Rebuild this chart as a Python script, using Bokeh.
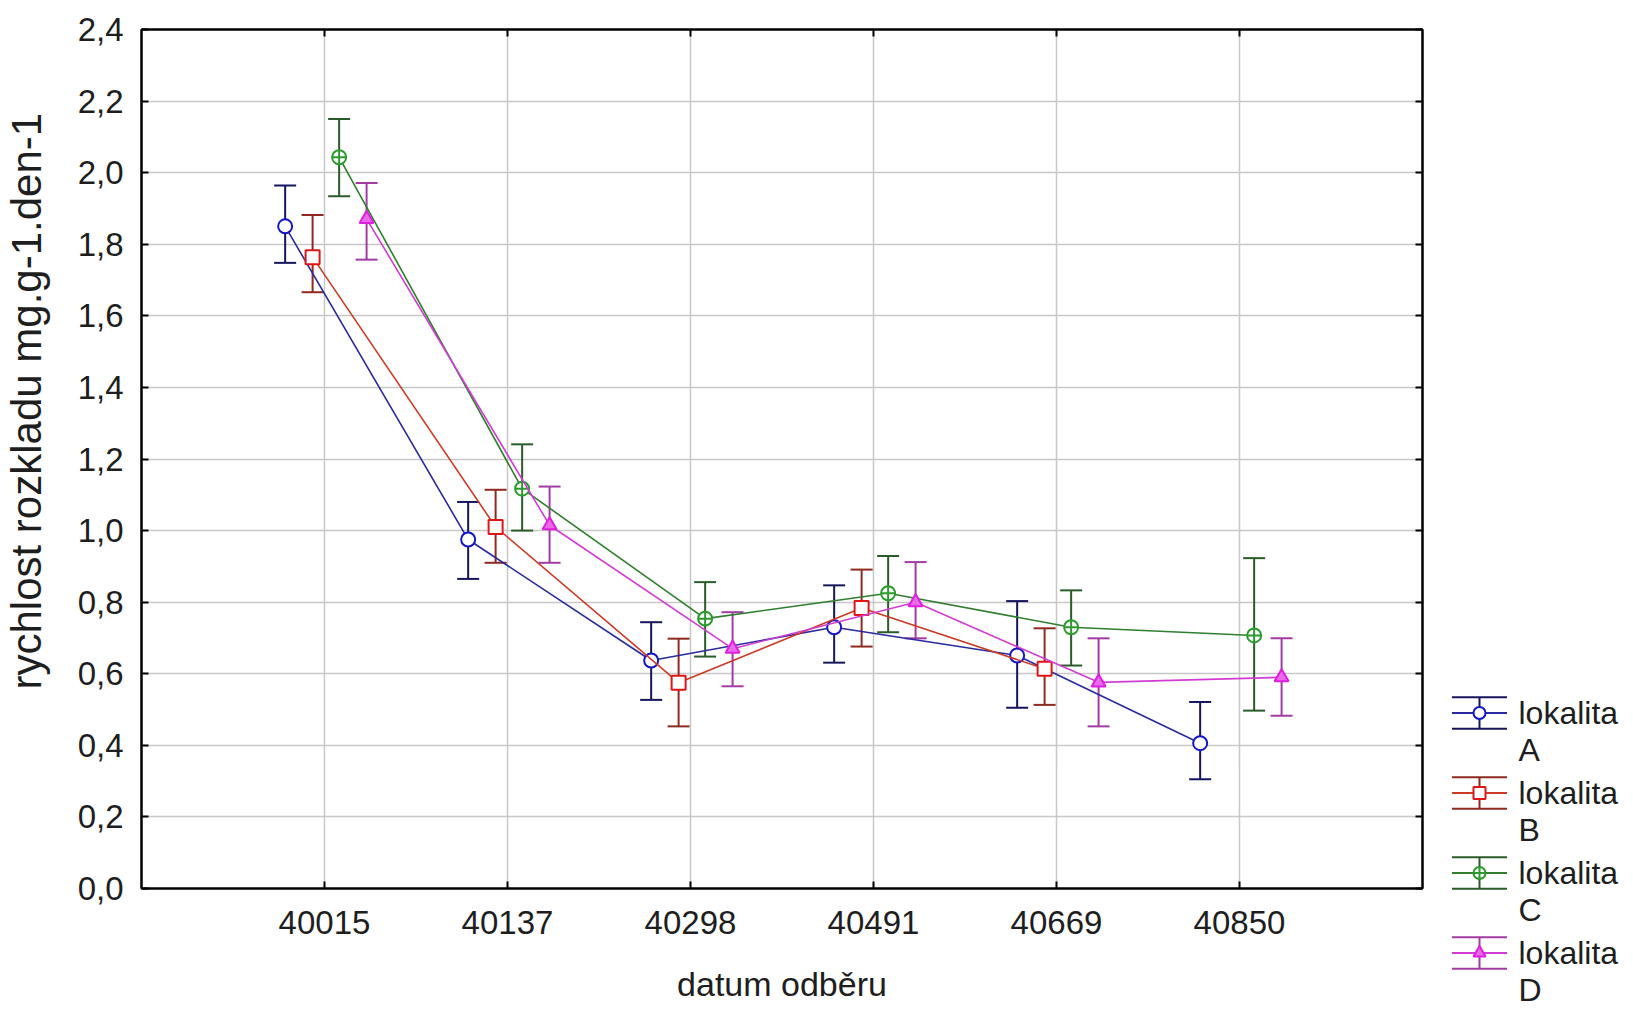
from bokeh.plotting import figure
from bokeh.models import (ColumnDataSource, Range1d, FixedTicker, LinearAxis, Whisker,
                          TeeHead, CustomJSTickFormatter, Title)
from bokeh.layouts import row, column
from bokeh.embed import file_html
from bokeh.resources import INLINE
from bokeh.core.properties import value

# ---------------- data ----------------
categories = ["40015", "40137", "40298", "40491", "40669", "40850"]
x_label = "datum odběru"
y_label = "rychlost rozkladu mg.g-1.den-1"
y_ticks = [0.0, 0.2, 0.4, 0.6, 0.8, 1.0, 1.2, 1.4, 1.6, 1.8, 2.0, 2.2, 2.4]

series_labels = ["lokalita A", "lokalita B", "lokalita C", "lokalita D"]

a_mean = [1.850, 0.975, 0.637, 0.730, 0.651, 0.406]
a_low = [1.748, 0.865, 0.527, 0.631, 0.505, 0.305]
a_high = [1.964, 1.080, 0.744, 0.847, 0.803, 0.521]

b_mean = [1.764, 1.010, 0.575, 0.784, 0.614]
b_low = [1.666, 0.910, 0.453, 0.676, 0.513]
b_high = [1.882, 1.114, 0.698, 0.891, 0.727]

c_mean = [2.043, 1.117, 0.754, 0.825, 0.730, 0.707]
c_low = [1.934, 1.000, 0.648, 0.716, 0.623, 0.497]
c_high = [2.150, 1.241, 0.856, 0.929, 0.833, 0.923]

d_mean = [1.871, 1.015, 0.670, 0.800, 0.576, 0.590]
d_low = [1.757, 0.910, 0.565, 0.699, 0.453, 0.483]
d_high = [1.971, 1.123, 0.772, 0.912, 0.699, 0.699]

# ---------------- styles ----------------
FONT = "Liberation Sans"
TXT = "#1e1e1e"
styles = [
    dict(offset=-0.215, marker="circle", line="#2a2a9e", mk="#1414c8", fill="white", err="#16165e"),
    dict(offset=-0.065, marker="square", line="#cc3a26", mk="#e01616", fill="white", err="#8e2a20"),
    dict(offset=0.080, marker="circle_cross", line="#2f7f2f", mk="#2c9a2c", fill="white", err="#2a5c2a"),
    dict(offset=0.230, marker="triangle", line="#d23cd2", mk="#e01ee0", fill="#e86ae8", err="#a23ca2"),
]
data = [(a_mean, a_low, a_high), (b_mean, b_low, b_high),
        (c_mean, c_low, c_high), (d_mean, d_low, d_high)]

W, H = 1633, 1009
FL, FR, FT, FB = 141, 1422, 29, 888
MAIN_W = FR + 4

p = figure(width=MAIN_W, height=H, output_backend="svg", toolbar_location=None,
           x_range=Range1d(0, len(categories) + 1), y_range=Range1d(0, 2.4),
           min_border_left=FL, min_border_right=MAIN_W - FR, min_border_top=FT,
           min_border_bottom=H - FB, background_fill_color="white",
           border_fill_color="white")
p.outline_line_color = "black"
p.outline_line_width = 2

xt = FixedTicker(ticks=list(range(1, len(categories) + 1)))
yt = FixedTicker(ticks=y_ticks)
fmt = CustomJSTickFormatter(code="return tick.toFixed(1).replace('.', ',')")

p.xaxis.ticker = xt
p.xaxis.major_label_overrides = {i + 1: c for i, c in enumerate(categories)}
p.yaxis.ticker = yt
p.yaxis.formatter = fmt
p.xgrid.ticker = xt
p.ygrid.ticker = yt
for g in (p.xgrid, p.ygrid):
    g.grid_line_color = "#c8c8c8"
    g.grid_line_width = 1.5

for ax in (p.xaxis[0], p.yaxis[0]):
    ax.axis_line_color = "black"
    ax.axis_line_width = 2
    ax.major_tick_in = 7
    ax.major_tick_out = 0
    ax.major_tick_line_color = "black"
    ax.major_tick_line_width = 2
    ax.minor_tick_line_color = None
    ax.major_label_text_font = FONT
    ax.major_label_text_font_size = "33px"
    ax.major_label_text_color = TXT

p.xaxis.major_label_standoff = 22
p.yaxis.major_label_standoff = 18
p.xaxis.axis_label = x_label
p.xaxis.axis_label_text_font = FONT
p.xaxis.axis_label_text_font_size = "34px"
p.xaxis.axis_label_text_font_style = "normal"
p.xaxis.axis_label_text_color = TXT
p.xaxis.axis_label_standoff = 28

# invisible y axis label: only reserves room so the visible title sits further left
p.yaxis.axis_label = y_label
p.yaxis.axis_label_text_font_size = "10px"
p.yaxis.axis_label_text_color = None
p.yaxis.axis_label_standoff = 11

# box ticks on top and right (no labels)
top_ax = LinearAxis(ticker=xt, major_label_text_font_size="1px", major_label_text_color=None,
                    major_label_standoff=0, major_tick_in=7, major_tick_out=0,
                    axis_line_width=2, major_tick_line_width=2, minor_tick_line_color=None)
right_ax = LinearAxis(ticker=yt, major_label_text_font_size="1px", major_label_text_color=None,
                      major_label_standoff=0, major_tick_in=7, major_tick_out=0,
                      axis_line_width=2, major_tick_line_width=2, minor_tick_line_color=None)
p.add_layout(top_ax, "above")
p.add_layout(right_ax, "right")

p.add_layout(Title(text=y_label, align="left", offset=199, text_font=FONT,
                   text_font_size="42px", text_font_style="normal",
                   text_color=TXT, standoff=0), "left")

for (mean, low, high), st in zip(data, styles):
    xs = [i + 1 + st["offset"] for i in range(len(mean))]
    src = ColumnDataSource(dict(x=xs, y=mean, low=low, high=high))
    p.line("x", "y", source=src, line_color=st["line"], line_width=1.6)
    p.add_layout(Whisker(source=src, base="x", lower="low", upper="high",
                         dimension="height", line_color=st["err"], line_width=2,
                         upper_head=TeeHead(size=22, line_color=st["err"], line_width=2),
                         lower_head=TeeHead(size=22, line_color=st["err"], line_width=2)))
    p.scatter("x", "y", source=src, marker=st["marker"], size=14,
              line_color=st["mk"], fill_color=st["fill"], line_width=2)

# ---------------- legend (separate panel on the right) ----------------
LW = W - MAIN_W
leg = figure(width=LW, height=H, output_backend="svg", toolbar_location=None,
             x_range=Range1d(MAIN_W, W), y_range=Range1d(H, 0),
             min_border=0, background_fill_color="white", border_fill_color="white")
leg.axis.visible = False
leg.grid.visible = False
leg.outline_line_color = None

cx, cy0, step, half_w, half_h = 1479, 712.5, 80.0, 27.5, 15.7
for i, (lab, st) in enumerate(zip(series_labels, styles)):
    cy = cy0 + i * step
    leg.segment(x0=[cx - half_w, cx - half_w, cx], y0=[cy - half_h, cy + half_h, cy - half_h],
                x1=[cx + half_w, cx + half_w, cx], y1=[cy - half_h, cy + half_h, cy + half_h],
                line_color=st["err"], line_width=2)
    leg.segment(x0=[cx - half_w], y0=[cy], x1=[cx + half_w], y1=[cy],
                line_color=st["line"], line_width=2)
    leg.scatter([cx], [cy], marker=st["marker"], size=12, line_color=st["mk"],
                fill_color=st["fill"], line_width=2)
    word, letter = lab.split(" ")
    leg.text(x=[cx + 39, cx + 39], y=[cy, cy + 37], text=[word, letter],
             text_font=value(FONT), text_font_size="32px", text_color=TXT,
             text_baseline="middle", text_align="left")

layout = row(p, column(leg))
open("out.html", "w").write(file_html(layout, INLINE))
